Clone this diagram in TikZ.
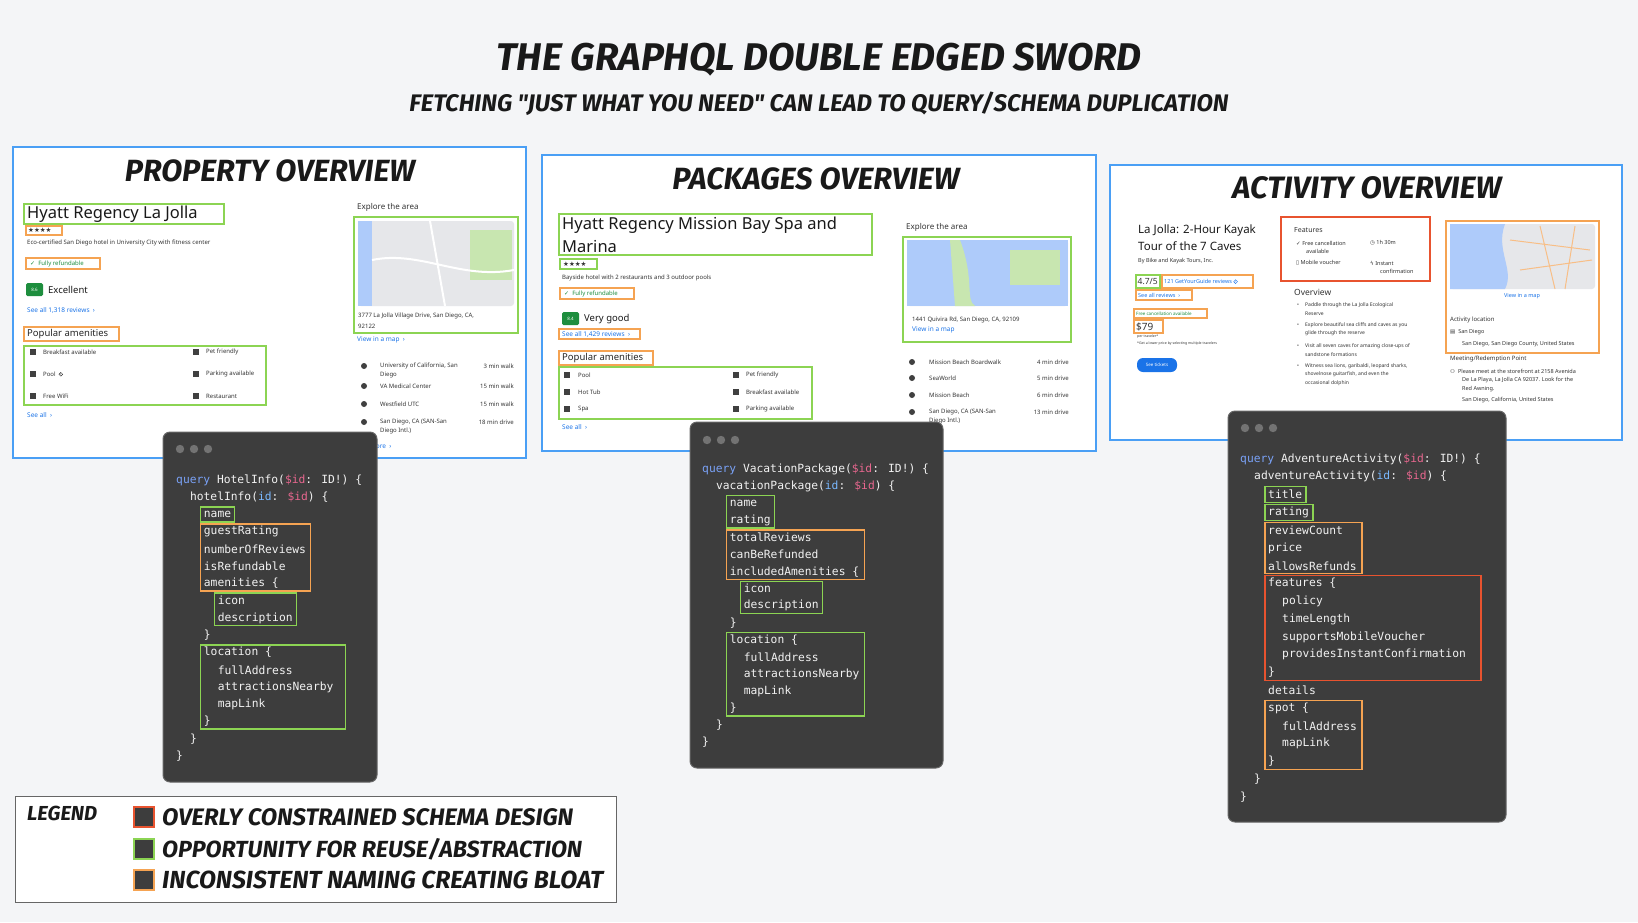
\documentclass[tikz,border=0pt]{standalone}
\usepackage{fontspec}
\usepackage{graphicx}
\setmainfont{Noto Sans}
\newfontfamily\codefont{DejaVu Sans Mono}
\newfontfamily\handfont{Fira Sans}
\newfontfamily\symfont{DejaVu Sans}
\usetikzlibrary{positioning}
\definecolor{pagebg}{HTML}{F4F5F7}
\definecolor{panelblue}{HTML}{4A9FF5}
\definecolor{hlgreen}{HTML}{8CD453}
\definecolor{hlorange}{HTML}{F5A352}
\definecolor{hlred}{HTML}{E8532F}
\definecolor{codebg}{HTML}{3D3D3D}
\definecolor{codefg}{HTML}{F2F2F2}
\definecolor{kw}{HTML}{7AA2F7}
\definecolor{var}{HTML}{E8678F}
\definecolor{arg}{HTML}{79B8FF}
\definecolor{linkblue}{HTML}{1A73E8}
\definecolor{okgreen}{HTML}{1E8E3E}
\definecolor{mapgray}{HTML}{E6E7EA}
\definecolor{mapblue}{HTML}{AECBFA}
\definecolor{mapgreen}{HTML}{C8E6B0}
\newcommand{\fitw}[2]{\resizebox{#1pt}{!}{#2}}
\newcommand{\infoi}{\tikz[baseline=-0.6ex]\node[circle,draw,inner sep=0.4pt,line width=0.4pt,font=\fontsize{3.5}{4}\selectfont]{i};}
\newcommand{\codeln}[3]{\node[code] at (\cx+#2*\cw,\cy+#1*\lh) {#3};}
\newcommand{\hlbox}[5]{\draw[hl=#1] (\cx+#4*\cw-3,\cy+#2*\lh-0.5*\lh+1) rectangle (\cx+#5*\cw+3,\cy+#3*\lh+0.5*\lh-1);}
\tikzset{
  panel/.style={draw=panelblue,line width=1.6pt,fill=white},
  hl/.style={draw=#1,line width=1.3pt},
  ui/.style={anchor=west,inner sep=0pt,text=black!80,font=\fontsize{6.5}{7.5}\selectfont},
  uib/.style={ui,text=linkblue},
  uir/.style={ui,anchor=east},
  head/.style={ui,text=black!85,font=\fontsize{9.5}{11}\selectfont},
  hand/.style={inner sep=0pt,text=black!90,font=\handfont\bfseries\itshape},
  win/.style={fill=codebg,draw=black!60,line width=1pt,rounded corners=7pt},
  dot/.style={fill=black!55},
  code/.style={anchor=west,inner sep=0pt,text=codefg,font=\codefont\fontsize{11.3}{12}\selectfont},
  icon/.style={fill=black!75},
  badge/.style={fill=okgreen,rounded corners=1.5pt},
  map/.style={fill=mapgray,rounded corners=3pt}
}
\begin{document}
\begin{tikzpicture}[x=1pt,y=-1pt]
\useasboundingbox (0,0) rectangle (1638,922);
\fill[pagebg] (0,0) rectangle (1638,922);

% titles
\node[hand] (title) at (819,60) {\fitw{645}{THE GRAPHQL DOUBLE EDGED SWORD}};
\node[hand] (subtitle) at (819,104) {\fitw{819}{FETCHING "JUST WHAT YOU NEED" CAN LEAD TO QUERY/SCHEMA DUPLICATION}};

% ---- property overview
\draw[panel] (13,147) rectangle (526,458);
\node[hand] (propT) at (270,171) {\fitw{290}{PROPERTY OVERVIEW}};
\node[ui,font=\fontsize{16.5}{18}\selectfont,text=black!90] at (27,214) {Hyatt Regency La Jolla};
\draw[hl=hlgreen] (24,204) rectangle (224,224);
\node[ui,font=\symfont\fontsize{6.5}{7}\selectfont] at (28,230.5) {★★★★};
\draw[hl=hlorange] (26,226) rectangle (62,235);
\node[ui,font=\fontsize{6}{7}\selectfont] at (27,243) {Eco-certified San Diego hotel in University City with fitness center};
\node[ui,text=okgreen,font=\fontsize{6}{7}\selectfont] at (30,263.5) {{\symfont ✓}\ \ Fully refundable};
\draw[hl=hlorange] (26,258) rectangle (100,269);
\fill[badge] (26,283) rectangle (43,296);
\node[inner sep=0pt,text=white,font=\fontsize{4.5}{5}\selectfont] at (34.5,289.5) {8.6};
\node[ui,font=\fontsize{9.5}{11}\selectfont,text=black!90] at (48,289.5) {Excellent};
\node[uib] at (27,310) {See all 1,318 reviews \ ›};
\node[head] at (27,334) {Popular amenities};
\draw[hl=hlorange] (24,327) rectangle (119,341);
\foreach \yy/\ta/\tb in {352/Breakfast available/Pet friendly,374/Pool \ \infoi/Parking available,396/Free WiFi/Restaurant}{
  \fill[icon] (30,\yy-3) rectangle (36,\yy+3);
  \fill[icon] (193,\yy-3) rectangle (199,\yy+3);
  \node[ui,font=\fontsize{6}{7}\selectfont] at (43,\yy) {\ta};
  \node[ui,font=\fontsize{6}{7}\selectfont] at (206,\yy) {\tb};
}
\draw[hl=hlgreen] (24,346) rectangle (266,405);
\node[uib] at (27,415) {See all \ ›};
\node[ui,font=\fontsize{8}{9}\selectfont] at (357,207) {Explore the area};
\fill[map] (358,221) rectangle (514,306);
\fill[mapblue] (358,221) rectangle (372,306);
\fill[mapgreen] (470,230) rectangle (512,280);
\draw[white,line width=2pt] (372,260) .. controls (420,250) and (460,280) .. (514,270);
\draw[white,line width=2pt] (430,221) -- (445,306);
\node[ui,font=\fontsize{6}{7}\selectfont] at (358,316) {3777 La Jolla Village Drive, San Diego, CA,};
\node[ui,font=\fontsize{6}{7}\selectfont] at (358,326) {92122};
\draw[hl=hlgreen] (354,217) rectangle (518,333);
\node[uib] at (357,340) {View in a map \ ›};
\foreach \yy/\na/\nb/\tm in {366/{University of California, San}/Diego/3 min walk,386/VA Medical Center//15 min walk,404/Westfield UTC//15 min walk,422/{San Diego, CA (SAN-San}/Diego Intl.)/18 min drive}{
  \fill[icon] (364,\yy) circle (3);
  \node[ui,font=\fontsize{6}{7}\selectfont] at (380,\yy) {\na};
  \node[ui,font=\fontsize{6}{7}\selectfont] at (380,\yy+9) {\nb};
  \node[uir,font=\fontsize{6}{7}\selectfont] at (514,\yy) {\tm};
}
\node[uib] at (357,446) {See more \ ›};

% ---- packages overview
\draw[panel] (542,155) rectangle (1096,451);
\node[hand] (packT) at (816,179) {\fitw{287}{PACKAGES OVERVIEW}};
\node[ui,font=\fontsize{16.5}{18}\selectfont,text=black!90] at (562,225) {Hyatt Regency Mission Bay Spa and};
\node[ui,font=\fontsize{16.5}{18}\selectfont,text=black!90] at (562,246) {Marina};
\draw[hl=hlgreen] (559,214) rectangle (872,255);
\node[ui,font=\symfont\fontsize{6.5}{7}\selectfont] at (563,264) {★★★★};
\draw[hl=hlgreen] (560,259) rectangle (597,269);
\node[ui,font=\fontsize{6}{7}\selectfont] at (562,278) {Bayside hotel with 2 restaurants and 3 outdoor pools};
\node[ui,text=okgreen,font=\fontsize{6}{7}\selectfont] at (564,293.5) {{\symfont ✓}\ \ Fully refundable};
\draw[hl=hlorange] (560,288) rectangle (634,299);
\fill[badge] (562,312) rectangle (579,325);
\node[inner sep=0pt,text=white,font=\fontsize{4.5}{5}\selectfont] at (570.5,318.5) {8.4};
\node[ui,font=\fontsize{9.5}{11}\selectfont,text=black!90] at (584,319) {Very good};
\node[uib] at (562,334) {See all 1,429 reviews \ ›};
\draw[hl=hlorange] (559,329) rectangle (640,339);
\node[head] at (562,358) {Popular amenities};
\draw[hl=hlorange] (559,351) rectangle (653,365);
\foreach \yy/\ta/\tb in {375/Pool/Pet friendly,392/Hot Tub/Breakfast available,409/Spa/Parking available}{
  \fill[icon] (564,\yy-3) rectangle (570,\yy+3);
  \fill[icon] (733,\yy-3) rectangle (739,\yy+3);
  \node[ui,font=\fontsize{6}{7}\selectfont] at (578,\yy) {\ta};
  \node[ui,font=\fontsize{6}{7}\selectfont] at (746,\yy) {\tb};
}
\draw[hl=hlgreen] (559,367) rectangle (812,419);
\node[uib] at (562,427) {See all \ ›};
\node[ui,font=\fontsize{8}{9}\selectfont] at (906,227) {Explore the area};
\fill[map] (907,240) rectangle (1068,306);
\fill[mapblue] (907,240) rectangle (1068,306);
\fill[mapgreen] (960,240) .. controls (975,280) and (965,300) .. (975,306) -- (955,306) -- (950,240) -- cycle;
\fill[mapgreen] (1010,250) rectangle (1060,285);
\node[ui,font=\fontsize{6}{7}\selectfont] at (912,320) {1441 Quivira Rd, San Diego, CA, 92109};
\node[uib] at (912,330) {View in a map};
\draw[hl=hlgreen] (903,237) rectangle (1071,342);
\foreach \yy/\na/\nb/\tm in {362/Mission Beach Boardwalk//4 min drive,378/SeaWorld//5 min drive,395/Mission Beach//6 min drive,412/{San Diego, CA (SAN-San}/Diego Intl.)/13 min drive}{
  \fill[icon] (912,\yy) circle (3);
  \node[ui,font=\fontsize{6}{7}\selectfont] at (929,\yy) {\na};
  \node[ui,font=\fontsize{6}{7}\selectfont] at (929,\yy+9) {\nb};
  \node[uir,font=\fontsize{6}{7}\selectfont] at (1069,\yy) {\tm};
}
\node[uib] at (905,437) {See more \ ›};

% ---- activity overview
\draw[panel] (1110,165) rectangle (1622,440);
\node[hand] (actT) at (1367,188) {\fitw{269}{ACTIVITY OVERVIEW}};
\node[ui,font=\fontsize{11.5}{13}\selectfont,text=black!90] at (1138,231) {La Jolla: 2-Hour Kayak};
\node[ui,font=\fontsize{11.5}{13}\selectfont,text=black!90] at (1138,246) {Tour of the 7 Caves};
\node[ui,font=\fontsize{5.5}{6}\selectfont] at (1138,261) {By Bike and Kayak Tours, Inc.};
\node[ui,font=\fontsize{8.5}{9}\selectfont\bfseries] at (1137.5,281.5) {4.7/5};
\draw[hl=hlgreen] (1136,275) rectangle (1160,288);
\node[uib,font=\fontsize{5.5}{6}\selectfont] at (1164,281.5) {121 GetYourGuide reviews \infoi};
\draw[hl=hlorange] (1162,275) rectangle (1253,288);
\node[uib,font=\fontsize{5.5}{6}\selectfont] at (1138,295) {See all reviews \ ›};
\draw[hl=hlorange] (1136,290) rectangle (1192,300);
\node[ui,text=okgreen,font=\fontsize{4.5}{5}\selectfont] at (1136,313.5) {Free cancellation available};
\draw[hl=hlorange] (1134,309) rectangle (1207,318);
\node[ui,font=\fontsize{10}{11}\selectfont\bfseries] at (1136,326.5) {\$79};
\draw[hl=hlorange] (1134,320) rectangle (1163,333);
\node[ui,font=\fontsize{3.5}{4}\selectfont] at (1137,337) {per traveler*};
\node[ui,font=\fontsize{3.5}{4}\selectfont] at (1137,344) {*Get a lower price by selecting multiple travelers};
\fill[linkblue,rounded corners=6pt] (1137,358) rectangle (1177,372);
\node[inner sep=0pt,text=white,font=\fontsize{4.5}{5}\selectfont\bfseries] at (1157,365) {See tickets};
% features
\node[ui,font=\fontsize{7}{8}\selectfont] at (1294,230) {Features};
\node[ui,font=\fontsize{5.5}{6}\selectfont] at (1296,243) {{\symfont ✓}\ Free cancellation};
\node[ui,font=\fontsize{5.5}{6}\selectfont] at (1306,251) {available};
\node[ui,font=\fontsize{5.5}{6}\selectfont] at (1370,243) {{\symfont ◷}\ 1h 30m};
\node[ui,font=\fontsize{5.5}{6}\selectfont] at (1296,263) {{\symfont ▯}\ Mobile voucher};
\node[ui,font=\fontsize{5.5}{6}\selectfont] at (1370,263) {{\symfont ϟ}\ Instant};
\node[ui,font=\fontsize{5.5}{6}\selectfont] at (1380,271) {confirmation};
\draw[hl=hlred] (1281,217) rectangle (1430,281);
\node[ui,font=\fontsize{8.5}{9}\selectfont] at (1294,292) {Overview};
\foreach \yy/\la/\lb/\lc in {305/Paddle through the La Jolla Ecological/Reserve/,325/Explore beautiful sea cliffs and caves as you/glide through the reserve/,346/Visit all seven caves for amazing close-ups of/sandstone formations/,366/{Witness sea lions, garibaldi, leopard sharks,}/{shovelnose guitarfish, and even the}/occasional dolphin}{
  \node[ui,font=\fontsize{5}{6}\selectfont] at (1297,\yy) {•};
  \node[ui,font=\fontsize{5}{6}\selectfont] at (1305,\yy) {\la};
  \node[ui,font=\fontsize{5}{6}\selectfont] at (1305,\yy+8.5) {\lb};
  \node[ui,font=\fontsize{5}{6}\selectfont] at (1305,\yy+17) {\lc};
}
% activity map
\fill[map] (1450,224) rectangle (1595,289);
\fill[mapblue] (1450,224) -- (1505,224) .. controls (1495,250) and (1515,270) .. (1505,289) -- (1450,289) -- cycle;
\draw[hlorange!70,line width=1pt] (1510,240) -- (1590,250) (1520,270) -- (1592,260) (1540,226) -- (1555,289) (1575,226) -- (1565,289);
\node[inner sep=0pt,text=linkblue,font=\fontsize{5.5}{6}\selectfont] at (1522,296) {View in a map};
\node[ui,font=\fontsize{6}{7}\selectfont] at (1450,320) {Activity location};
\node[ui,font=\fontsize{5.5}{6}\selectfont] at (1450,332) {{\symfont ▤}\ \ San Diego};
\node[ui,font=\fontsize{5.5}{6}\selectfont] at (1462,344) {San Diego, San Diego County, United States};
\draw[hl=hlorange] (1446,221) rectangle (1599,353);
\node[ui,font=\fontsize{6}{7}\selectfont] at (1450,359) {Meeting/Redemption Point};
\node[ui,font=\fontsize{5.5}{6}\selectfont] at (1450,371) {{\symfont ⚇}\ \ Please meet at the storefront at 2158 Avenida};
\node[ui,font=\fontsize{5.5}{6}\selectfont] at (1462,380) {De La Playa, La Jolla CA 92037. Look for the};
\node[ui,font=\fontsize{5.5}{6}\selectfont] at (1462,389) {Red Awning.};
\node[ui,font=\fontsize{5.5}{6}\selectfont] at (1462,400) {San Diego, California, United States};

% ---- code windows
\draw[win] (163,432) rectangle (377,782);
\foreach \dx in {0,14,28} \fill[dot] (180+\dx,449) circle (4.2);
\def\cx{176}\def\cy{480}\def\lh{17.25}\def\cw{6.93}
\codeln{0}{0}{\textcolor{kw}{query} HotelInfo(\textcolor{var}{\$id}: ID!) \{}
\codeln{1}{2}{hotelInfo(\textcolor{arg}{id}: \textcolor{var}{\$id}) \{}
\codeln{2}{4}{name}
\codeln{3}{4}{guestRating}
\codeln{4}{4}{numberOfReviews}
\codeln{5}{4}{isRefundable}
\codeln{6}{4}{amenities \{}
\codeln{7}{6}{icon}
\codeln{8}{6}{description}
\codeln{9}{4}{\}}
\codeln{10}{4}{location \{}
\codeln{11}{6}{fullAddress}
\codeln{12}{6}{attractionsNearby}
\codeln{13}{6}{mapLink}
\codeln{14}{4}{\}}
\codeln{15}{2}{\}}
\codeln{16}{0}{\}}
\hlbox{hlgreen}{2}{2}{4}{8}
\hlbox{hlorange}{3}{6}{4}{19}
\hlbox{hlgreen}{7}{8}{6}{17}
\hlbox{hlgreen}{10}{14}{4}{24}

\draw[win] (690,422) rectangle (943,768);
\foreach \dx in {0,14,28} \fill[dot] (707+\dx,440) circle (4.2);
\def\cx{702}\def\cy{469}\def\lh{17.1}
\codeln{0}{0}{\textcolor{kw}{query} VacationPackage(\textcolor{var}{\$id}: ID!) \{}
\codeln{1}{2}{vacationPackage(\textcolor{arg}{id}: \textcolor{var}{\$id}) \{}
\codeln{2}{4}{name}
\codeln{3}{4}{rating}
\codeln{4}{4}{totalReviews}
\codeln{5}{4}{canBeRefunded}
\codeln{6}{4}{includedAmenities \{}
\codeln{7}{6}{icon}
\codeln{8}{6}{description}
\codeln{9}{4}{\}}
\codeln{10}{4}{location \{}
\codeln{11}{6}{fullAddress}
\codeln{12}{6}{attractionsNearby}
\codeln{13}{6}{mapLink}
\codeln{14}{4}{\}}
\codeln{15}{2}{\}}
\codeln{16}{0}{\}}
\hlbox{hlgreen}{2}{3}{4}{10}
\hlbox{hlorange}{4}{6}{4}{23}
\hlbox{hlgreen}{7}{8}{6}{17}
\hlbox{hlgreen}{10}{14}{4}{23}

\draw[win] (1228,411) rectangle (1506,822);
\foreach \dx in {0,14,28} \fill[dot] (1245+\dx,428) circle (4.2);
\def\cx{1240}\def\cy{459}\def\lh{17.8}\def\cw{7.0}
\codeln{0}{0}{\textcolor{kw}{query} AdventureActivity(\textcolor{var}{\$id}: ID!) \{}
\codeln{1}{2}{adventureActivity(\textcolor{arg}{id}: \textcolor{var}{\$id}) \{}
\codeln{2}{4}{title}
\codeln{3}{4}{rating}
\codeln{4}{4}{reviewCount}
\codeln{5}{4}{price}
\codeln{6}{4}{allowsRefunds}
\codeln{7}{4}{features \{}
\codeln{8}{6}{policy}
\codeln{9}{6}{timeLength}
\codeln{10}{6}{supportsMobileVoucher}
\codeln{11}{6}{providesInstantConfirmation}
\codeln{12}{4}{\}}
\codeln{13}{4}{details}
\codeln{14}{4}{spot \{}
\codeln{15}{6}{fullAddress}
\codeln{16}{6}{mapLink}
\codeln{17}{4}{\}}
\codeln{18}{2}{\}}
\codeln{19}{0}{\}}
\hlbox{hlgreen}{2}{2}{4}{9}
\hlbox{hlgreen}{3}{3}{4}{10}
\hlbox{hlorange}{4}{6}{4}{17}
\hlbox{hlred}{7}{12}{4}{34}
\hlbox{hlorange}{14}{17}{4}{17}

% ---- legend
\draw[fill=white,draw=black!60,line width=1pt] (15,796) rectangle (616,902);
\node[hand,anchor=west] (legT) at (27,813) {\fitw{70}{LEGEND}};
\foreach \yy/\cc/\tw/\lt in {817/hlred/411/{OVERLY CONSTRAINED SCHEMA DESIGN},849/hlgreen/420/{OPPORTUNITY FOR REUSE/ABSTRACTION},880/hlorange/441/{INCONSISTENT NAMING CREATING BLOAT}}{
  \draw[fill=codebg,draw=\cc,line width=2.5pt] (134,\yy-10) rectangle (154,\yy+10);
  \node[hand,anchor=west] at (162,\yy) {\fitw{\tw}{\lt}};
}
\end{tikzpicture}
\end{document}
